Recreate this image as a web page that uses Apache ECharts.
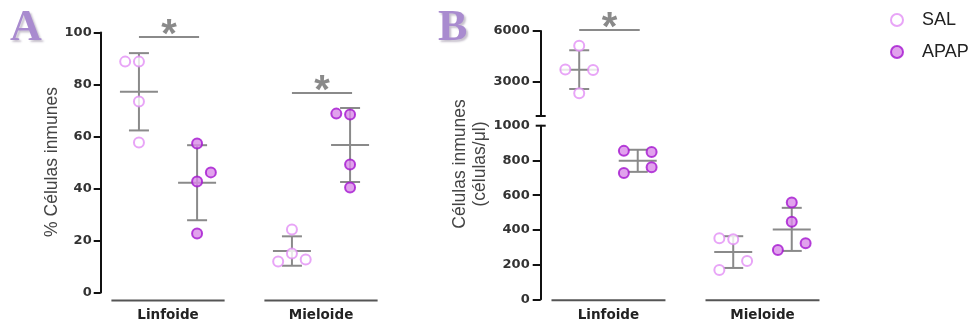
<!DOCTYPE html>
<html>
<head>
<meta charset="utf-8">
<script src="https://cdn.jsdelivr.net/npm/echarts@6/dist/echarts.min.js"></script>
<style>
  html, body { margin: 0; padding: 0; background: #ffffff; }
  #chart { width: 975px; height: 326px; }
</style>
</head>
<body>
<div id="chart"></div>
<script>
// ---- data -------------------------------------------------------------
const categories = ['Linfoide', 'Mieloide'];
const groups = ['SAL', 'APAP'];

// A: % of immune cells (one value per animal)
const pctSalLinfoide  = [88.8, 88.8, 73.5, 57.7];
const pctApapLinfoide = [57.3, 46.2, 42.7, 22.7];
const pctSalMieloide  = [24.2, 15.0, 12.7, 11.9];
const pctApapMieloide = [68.8, 68.5, 49.2, 40.4];

// B: immune cells per µl (one value per animal)
const cntSalLinfoide  = [5130, 3740, 3700, 2340];
const cntApapLinfoide = [855, 848, 727, 761];
const cntSalMieloide  = [352, 346, 221, 169];
const cntApapMieloide = [557, 447, 284, 323];

// axis tick labels
const ticksA     = [0, 20, 40, 60, 80, 100];
const ticksBLow  = [0, 200, 400, 600, 800, 1000];
const ticksBHigh = [3000, 6000];

// level of the significance brackets, per category
const sigLevelA = [98.3, 76.7];
const sigLevelB = [6060];

// ---- layout & style ---------------------------------------------------
const X_MIN = -0.44, X_MAX = 1.5;
const DODGE = 0.19;      // SAL left / APAP right of the category centre
const NUDGE = 0.09;      // sideways shift for dots that would overlap
const CAP = 10, MEAN_HALF = 19;
const BAR_COLOR = '#8a8a8a';
const AXIS_COLOR = '#111111';
const BREAK_AT = 1000;

// sideways shifts (in NUDGE steps) for each dot, same order as the values
const nudgeA = [[[-1, 0, 0, 0], [0, 1, 0, 0]], [[0, 0, 1, -1], [-1, 0, 0, 0]]];
const nudgeB = [[[0, -1, 1, 0], [-1, 1, -1, 1]], [[-1, 0, 1, -1], [0, 0, -1, 1]]];

const valuesA = [[pctSalLinfoide, pctApapLinfoide], [pctSalMieloide, pctApapMieloide]];
const valuesB = [[cntSalLinfoide, cntApapLinfoide], [cntSalMieloide, cntApapMieloide]];

const groupStyle = [
  { color: '#ffffff', borderColor: '#e28ef5', borderWidth: 2 },
  { color: '#d98be9', borderColor: '#a414cf', borderWidth: 2 }
];

const tickFont = { fontFamily: 'DejaVu Sans', fontWeight: 'bold', fontSize: 13, color: '#333333' };
const catFont  = { fontFamily: 'DejaVu Sans', fontWeight: 'bold', fontSize: 13.5, color: '#222222' };

const groupPos = (ci, gi) => ci + (gi === 0 ? -DODGE : DODGE);

function meanSd(v) {
  const m = v.reduce((s, x) => s + x, 0) / v.length;
  const sd = Math.sqrt(v.reduce((s, x) => s + (x - m) * (x - m), 0) / (v.length - 1));
  return [m, m - sd, m + sd];
}

// ---- custom renderers -------------------------------------------------
function seg(x1, y1, x2, y2, stroke) {
  return { type: 'line', shape: { x1, y1, x2, y2 }, style: { stroke: stroke, lineWidth: 2 } };
}

function renderErrorBar(params, api) {
  const x = api.value(0);
  const mid = api.coord([x, api.value(1)]);
  const lo = api.coord([x, api.value(2)]);
  const hi = api.coord([x, api.value(3)]);
  return {
    type: 'group',
    children: [
      seg(mid[0], hi[1], mid[0], lo[1], BAR_COLOR),
      seg(mid[0] - CAP, hi[1], mid[0] + CAP, hi[1], BAR_COLOR),
      seg(mid[0] - CAP, lo[1], mid[0] + CAP, lo[1], BAR_COLOR),
      seg(mid[0] - MEAN_HALF, mid[1], mid[0] + MEAN_HALF, mid[1], BAR_COLOR)
    ]
  };
}

function renderSig(params, api) {
  const ci = api.value(0), lvl = api.value(1);
  const a = api.coord([ci - DODGE, lvl]);
  const b = api.coord([ci + DODGE, lvl]);
  return {
    type: 'group',
    children: [
      seg(a[0], a[1], b[0] + 2, b[1], BAR_COLOR),
      {
        type: 'text', x: (a[0] + b[0]) / 2 + 1, y: a[1] - 1,
        style: {
          text: '*', font: 'bold 40px "Liberation Sans", Arial, sans-serif', fill: BAR_COLOR,
          align: 'center', verticalAlign: 'middle', textAlign: 'center', textVerticalAlign: 'middle'
        }
      }
    ]
  };
}

function makeUnderline(offset) {
  return function (params, api) {
    const p = api.coord([api.value(0), api.value(1)]);
    const half = api.size([0.37, 0])[0];
    return seg(p[0] - half, p[1] + offset, p[0] + half, p[1] + offset, '#555555');
  };
}

function renderBreak(params, api) {
  const p = api.coord([api.value(0), api.value(1)]);
  return seg(p[0] - 5, p[1], p[0] + 5, p[1], AXIS_COLOR);
}

// ---- series -----------------------------------------------------------
const series = [];
const errData = { 0: [], 1: [], 2: [] };

function addPanel(values, nudges, pickGrid) {
  values.forEach((pair, ci) => {
    pair.forEach((vals, gi) => {
      const g = pickGrid(vals);
      series.push({
        type: 'scatter', name: groups[gi], xAxisIndex: g, yAxisIndex: g, z: 4,
        symbol: 'circle', symbolSize: 10, itemStyle: groupStyle[gi],
        emphasis: { disabled: true },
        data: vals.map((v, k) => [groupPos(ci, gi) + nudges[ci][gi][k] * NUDGE, v])
      });
      errData[g].push([groupPos(ci, gi)].concat(meanSd(vals)));
    });
  });
}

addPanel(valuesA, nudgeA, () => 0);
addPanel(valuesB, nudgeB, vals => (vals.every(v => v >= BREAK_AT) ? 1 : 2));

[0, 1, 2].forEach(g => {
  series.push({
    type: 'custom', xAxisIndex: g, yAxisIndex: g, z: 2, clip: false, silent: true,
    renderItem: renderErrorBar, data: errData[g]
  });
});

series.push({
  type: 'custom', xAxisIndex: 0, yAxisIndex: 0, z: 2, clip: false, silent: true,
  renderItem: renderSig, data: sigLevelA.map((v, i) => [i, v])
});
series.push({
  type: 'custom', xAxisIndex: 1, yAxisIndex: 1, z: 2, clip: false, silent: true,
  renderItem: renderSig, data: sigLevelB.map((v, i) => [i, v])
});
series.push({
  type: 'custom', xAxisIndex: 0, yAxisIndex: 0, z: 2, clip: false, silent: true,
  renderItem: makeUnderline(8), data: categories.map((c, i) => [i, 0])
});
series.push({
  type: 'custom', xAxisIndex: 2, yAxisIndex: 2, z: 2, clip: false, silent: true,
  renderItem: makeUnderline(1), data: categories.map((c, i) => [i, 0])
});
series.push({
  type: 'custom', xAxisIndex: 1, yAxisIndex: 1, z: 5, clip: false, silent: true,
  renderItem: renderBreak, data: [[X_MIN, BREAK_AT]]
});
series.push({
  type: 'custom', xAxisIndex: 2, yAxisIndex: 2, z: 5, clip: false, silent: true,
  renderItem: renderBreak, data: [[X_MIN, BREAK_AT]]
});

// ---- axes -------------------------------------------------------------
function xAxis(gridIndex, showLabels, margin) {
  return {
    type: 'value', gridIndex, min: X_MIN, max: X_MAX,
    axisLine: { show: false, onZero: false }, axisTick: { show: false }, splitLine: { show: false },
    axisLabel: Object.assign({
      show: showLabels, margin: margin,
      customValues: categories.map((c, i) => i),
      formatter: v => categories[Math.round(v)]
    }, catFont)
  };
}

function yAxis(gridIndex, min, max, labels, tickVals, tickLen, margin) {
  return {
    type: 'value', gridIndex, min, max,
    axisLine: { show: true, onZero: false, lineStyle: { color: AXIS_COLOR, width: 2 } },
    axisTick: { show: true, length: tickLen, lineStyle: { color: AXIS_COLOR, width: 2 }, customValues: tickVals },
    splitLine: { show: false },
    axisLabel: Object.assign({ margin: margin, customValues: labels, formatter: v => String(v) }, tickFont)
  };
}

const option = {
  animation: false,
  backgroundColor: '#ffffff',
  grid: [
    { left: 100.7, top: 32.5, width: 296.8, height: 260, outerBoundsMode: 'none' },
    { left: 540.7, top: 31, width: 298.8, height: 85, outerBoundsMode: 'none' },
    { left: 540.7, top: 125.7, width: 298.8, height: 173.6, outerBoundsMode: 'none' }
  ],
  xAxis: [xAxis(0, true, 16), xAxis(1, false, 8), xAxis(2, true, 9)],
  yAxis: [
    yAxis(0, 0, 100, ticksA, ticksA, 7, 9),
    yAxis(1, BREAK_AT, 6000, ticksBHigh, ticksBHigh, 8, 11),
    yAxis(2, 0, BREAK_AT, ticksBLow, ticksBLow.filter(v => v < BREAK_AT), 8, 11)
  ],
  legend: {
    orient: 'vertical', left: 885, top: 6,
    itemWidth: 40, itemHeight: 12, itemGap: 14,
    icon: 'circle', selectedMode: false,
    textStyle: { fontFamily: '"Liberation Sans", Arial, sans-serif', fontSize: 18, color: '#222222' },
    data: groups.map((g, gi) => ({ name: g, itemStyle: groupStyle[gi] }))
  },
  graphic: [
    {
      type: 'text', x: 10, y: 29,
      style: {
        text: 'A', font: 'bold 44px "Liberation Serif", "DejaVu Serif", serif', fill: '#a98bcf',
        align: 'left', verticalAlign: 'middle', textAlign: 'left', textVerticalAlign: 'middle',
        textShadowColor: 'rgba(70,50,90,0.3)', textShadowBlur: 2, textShadowOffsetX: 2, textShadowOffsetY: 2
      }
    },
    {
      type: 'text', x: 438, y: 29,
      style: {
        text: 'B', font: 'bold 44px "Liberation Serif", "DejaVu Serif", serif', fill: '#a98bcf',
        align: 'left', verticalAlign: 'middle', textAlign: 'left', textVerticalAlign: 'middle',
        textShadowColor: 'rgba(70,50,90,0.3)', textShadowBlur: 2, textShadowOffsetX: 2, textShadowOffsetY: 2
      }
    },
    {
      type: 'text', x: 52, y: 162, rotation: Math.PI / 2,
      style: {
        text: '% Células inmunes', font: '17.5px "Liberation Sans", Arial, sans-serif', fill: '#444444',
        align: 'center', verticalAlign: 'middle', textAlign: 'center', textVerticalAlign: 'middle'
      }
    },
    {
      type: 'text', x: 470, y: 164, rotation: Math.PI / 2,
      style: {
        text: 'Células inmunes\n(células/μl)', font: '17.5px "Liberation Sans", Arial, sans-serif', fill: '#444444',
        lineHeight: 20,
        align: 'center', verticalAlign: 'middle', textAlign: 'center', textVerticalAlign: 'middle'
      }
    }
  ],
  series: series
};

const chart = echarts.init(document.getElementById('chart'), null, { renderer: 'canvas' });
chart.setOption(option);
</script>
</body>
</html>
